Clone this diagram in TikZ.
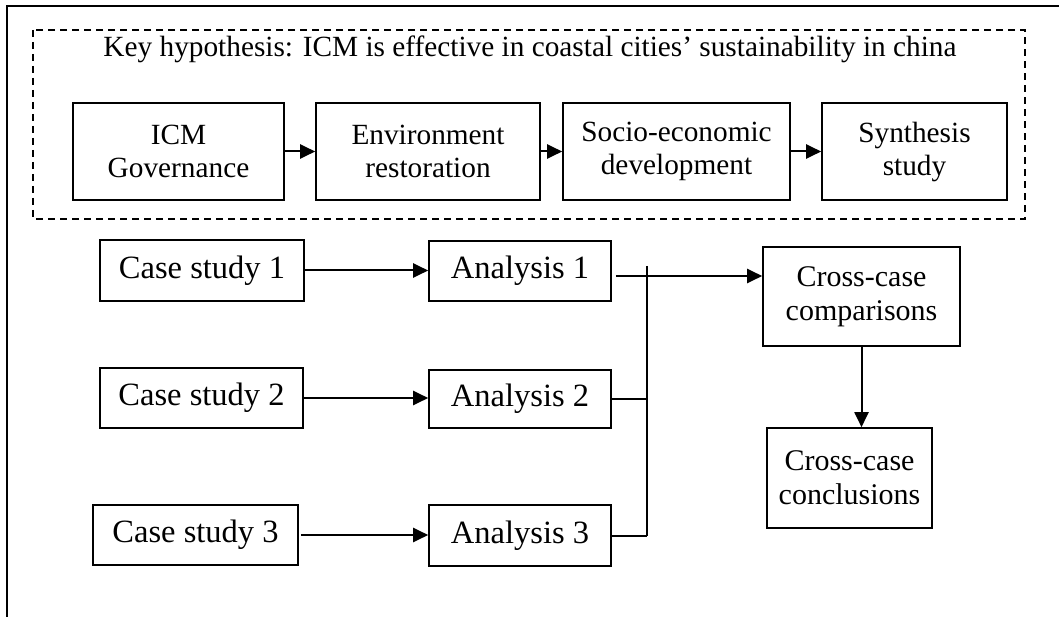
\documentclass[tikz,border=0pt]{standalone}
\usepackage{fontspec}
\setmainfont{Liberation Serif}
\usetikzlibrary{arrows.meta}
\begin{document}
\begin{tikzpicture}[x=1pt,y=-1pt,
  every node/.style={font=\fontsize{29.3}{33}\selectfont},
  bx/.style={draw,line width=1.6pt,inner sep=0pt,align=center},
  big/.style={font=\fontsize{32.5}{36}\selectfont},
  conn/.style={line width=2pt},
  arr/.style={conn,-{Triangle[length=15pt,width=14pt]}}]
\useasboundingbox (0,0) rectangle (1059,617);
% outer frame (partial)
\draw[line width=2pt] (7,617) -- (7,6) -- (1059,6);
% dashed hypothesis frame
\draw[line width=1.6pt,dash pattern=on 7pt off 5pt] (33,30) rectangle (1025,219);
\node (hyp) at (530,49) {Key hypothesis: ICM is effective in coastal cities’ sustainability in china};
% top chain
\node[bx,minimum width=211pt,minimum height=97pt] (g1) at (178.5,151.5) {ICM\\Governance};
\node[bx,minimum width=224pt,minimum height=97pt] (g2) at (428,151.5) {Environment\\restoration};
\node[bx,minimum width=227pt,minimum height=97pt] (g3) at (676.5,151.5) {Socio-economic\\development};
\node[bx,minimum width=185pt,minimum height=97pt] (g4) at (914.5,151.5) {Synthesis\\study};
\draw[arr] (g1) -- (g2);
\draw[arr] (g2) -- (g3);
\draw[arr] (g3) -- (g4);
% cases
\node[bx,big,minimum width=204pt,minimum height=61pt] (c1) at (202,270.5) {Case study 1};
\node[bx,big,minimum width=203pt,minimum height=60pt] (c2) at (201.5,398) {Case study 2};
\node[bx,big,minimum width=205pt,minimum height=60pt] (c3) at (195.5,535) {Case study 3};
\node[bx,big,minimum width=182pt,minimum height=60pt] (a1) at (520,271) {Analysis 1};
\node[bx,big,minimum width=182pt,minimum height=58pt] (a2) at (520,399) {Analysis 2};
\node[bx,big,minimum width=182pt,minimum height=61pt] (a3) at (520,535.5) {Analysis 3};
\node[bx,font=\fontsize{30}{34}\selectfont,minimum width=197pt,minimum height=99pt] (cc1) at (861.5,296.5) {Cross-case\\comparisons};
\node[bx,font=\fontsize{30}{34}\selectfont,minimum width=165pt,minimum height=100pt] (cc2) at (849.5,478) {Cross-case\\conclusions};
\draw[arr] (c1.east) -- (c1.east -| a1.west);
\draw[arr] (c2.east) -- (c2.east -| a2.west);
\draw[arr] ([xshift=2pt]c3.east) -- (c3.east -| a3.west);
% merge
\coordinate (s1) at ([xshift=4pt,yshift=-5pt]a1.east);
\coordinate (j1) at (647,266);
\coordinate (j3) at (647,536);
\draw[arr] (s1) -- (s1 -| cc1.west);
\draw[conn] (j1) -- (j3);
\draw[conn] (a2.east) -- (a2.east -| j1);
\draw[conn] (a3.east) -- (a3.east -| j1);
\draw[arr] (cc1.south) -- (cc1.south |- cc2.north);
\end{tikzpicture}
\end{document}
